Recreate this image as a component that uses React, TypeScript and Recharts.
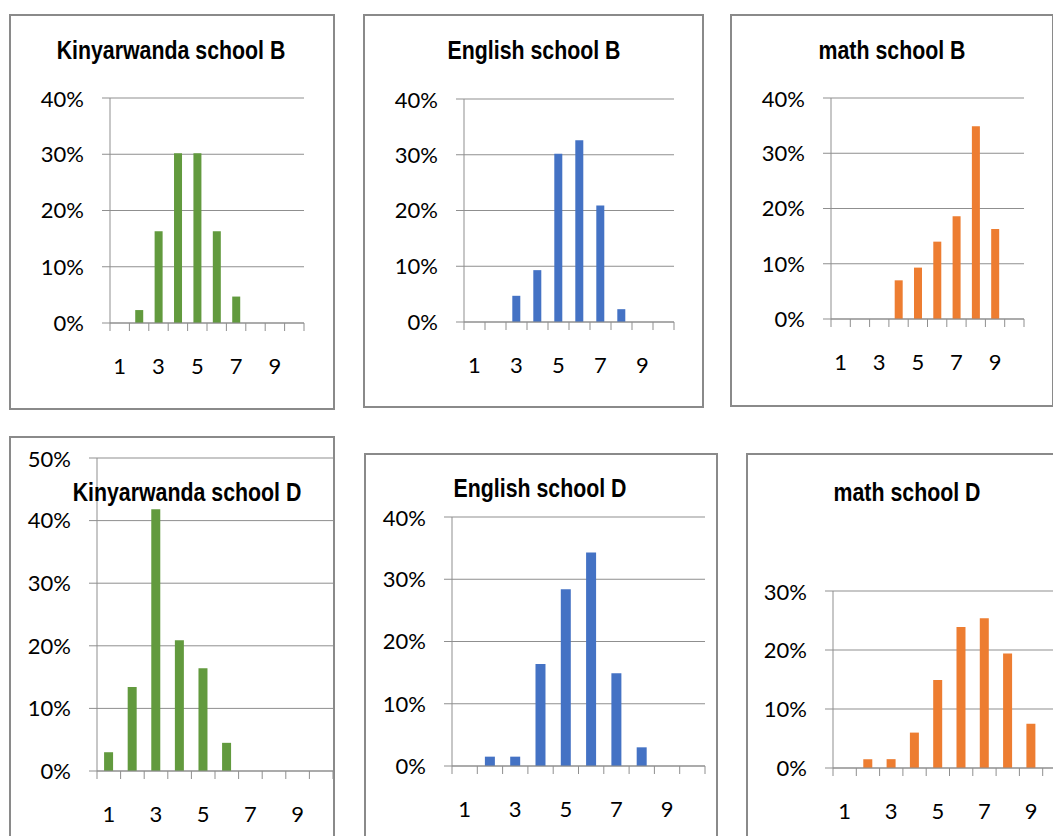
import React from "react";
import { BarChart, Bar, XAxis, YAxis, CartesianGrid } from "recharts";

// score categories 1..10, shares of students per score
const CATEGORIES = ["1", "2", "3", "4", "5", "6", "7", "8", "9", "10"];

const kinyarwandaB = [0, 0.023, 0.163, 0.302, 0.302, 0.163, 0.047, 0, 0, 0];
const englishB = [0, 0, 0.047, 0.093, 0.302, 0.326, 0.209, 0.023, 0, 0];
const mathB = [0, 0, 0, 0.07, 0.093, 0.14, 0.186, 0.349, 0.163, 0];
const kinyarwandaD = [0.03, 0.134, 0.418, 0.209, 0.164, 0.045, 0, 0, 0, 0];
const englishD = [0, 0.015, 0.015, 0.164, 0.284, 0.343, 0.149, 0.03, 0, 0];
const mathD = [0, 0.015, 0.015, 0.06, 0.149, 0.239, 0.254, 0.194, 0.075, 0];

const TICKS_40 = [0, 0.1, 0.2, 0.3, 0.4];
const TICKS_50 = [0, 0.1, 0.2, 0.3, 0.4, 0.5];
const TICKS_30 = [0, 0.1, 0.2, 0.3];

const GREEN = "#629a3e";
const BLUE = "#4472c4";
const ORANGE = "#ed7d31";
const GRID = "#8f8f8f";
const TEXT = "#000";
const LABEL_GAP = 35;
const Y_AXIS_W = 90;
const PAD = 12;
const FONT = 22;

const toRows = (values: number[]) => CATEGORIES.map((c, i) => ({ cat: c, value: values[i] }));
const pct = (v: number) => `${Math.round(v * 100)}%`;

interface PanelProps {
  title: string;
  values: number[];
  color: string;
  ticks: number[];
  box: { x: number; y: number; w: number; h: number };
  plot: { x: number; y: number; w: number; h: number };
  titlePos: { x: number; y: number };
}

function Panel({ title, values, color, ticks, box, plot, titlePos }: PanelProps) {
  const data = toRows(values);
  const band = plot.w / CATEGORIES.length;

  const renderTick = (props: any) => {
    const { x, y, payload } = props;
    const axisY = y - LABEL_GAP;
    const idx = CATEGORIES.indexOf(String(payload.value));
    return (
      <g>
        <line x1={x - band / 2} x2={x - band / 2} y1={axisY} y2={axisY + 8} stroke={GRID} />
        {idx === CATEGORIES.length - 1 && (
          <line x1={x + band / 2} x2={x + band / 2} y1={axisY} y2={axisY + 8} stroke={GRID} />
        )}
        {idx % 2 === 0 && (
          <text x={x} y={y} dy="0.71em" textAnchor="middle" fontSize={FONT} fontFamily="Lato" fill={TEXT}>
            {payload.value}
          </text>
        )}
      </g>
    );
  };

  return (
    <>
      <div
        style={{
          position: "absolute",
          left: box.x,
          top: box.y,
          width: box.w,
          height: box.h,
          border: "2px solid #8a8a8a",
          boxSizing: "border-box",
        }}
      />
      <div style={{ position: "absolute", left: plot.x - Y_AXIS_W, top: plot.y - PAD }}>
        <BarChart
          width={plot.w + Y_AXIS_W + PAD}
          height={plot.h + PAD + 60}
          data={data}
          margin={{ top: PAD, right: PAD, left: 0, bottom: 0 }}
          barCategoryGap="30%"
        >
          <CartesianGrid vertical={false} stroke={GRID} />
          <XAxis
            dataKey="cat"
            interval={0}
            height={60}
            tickLine={false}
            tickSize={0}
            tickMargin={LABEL_GAP}
            axisLine={{ stroke: GRID }}
            tick={renderTick}
          />
          <YAxis
            width={Y_AXIS_W}
            domain={[0, ticks[ticks.length - 1]]}
            ticks={ticks}
            tickFormatter={pct}
            tickSize={8}
            tickMargin={18}
            tickLine={{ stroke: GRID }}
            axisLine={{ stroke: GRID }}
            tick={{ fontSize: FONT, fontFamily: "Lato", fill: TEXT }}
          />
          <Bar dataKey="value" fill={color} isAnimationActive={false} />
        </BarChart>
      </div>
      <div
        style={{
          position: "absolute",
          left: titlePos.x,
          top: titlePos.y,
          transform: "translate(-50%, -50%) scaleX(0.82)",
          fontFamily: "'Liberation Sans', Arial, sans-serif",
          fontWeight: 700,
          fontSize: 26,
          lineHeight: 1,
          whiteSpace: "nowrap",
          color: "#000",
        }}
      >
        {title}
      </div>
    </>
  );
}

export default function App() {
  return (
    <div
      style={{
        position: "fixed",
        left: 0,
        top: 0,
        width: 1053,
        height: 836,
        overflow: "hidden",
        background: "#fff",
      }}
    >
      <Panel
        title="Kinyarwanda school B"
        values={kinyarwandaB}
        color={GREEN}
        ticks={TICKS_40}
        box={{ x: 9, y: 14, w: 326, h: 396 }}
        plot={{ x: 110, y: 98, w: 194, h: 225 }}
        titlePos={{ x: 171, y: 50 }}
      />
      <Panel
        title="English school B"
        values={englishB}
        color={BLUE}
        ticks={TICKS_40}
        box={{ x: 363, y: 14, w: 341, h: 394 }}
        plot={{ x: 464, y: 99, w: 210, h: 223 }}
        titlePos={{ x: 534, y: 50 }}
      />
      <Panel
        title="math school B"
        values={mathB}
        color={ORANGE}
        ticks={TICKS_40}
        box={{ x: 730, y: 14, w: 324, h: 393 }}
        plot={{ x: 831, y: 98, w: 193, h: 221 }}
        titlePos={{ x: 892, y: 50 }}
      />
      <Panel
        title="Kinyarwanda school D"
        values={kinyarwandaD}
        color={GREEN}
        ticks={TICKS_50}
        box={{ x: 9, y: 436, w: 326, h: 420 }}
        plot={{ x: 97, y: 458, w: 236, h: 313 }}
        titlePos={{ x: 187, y: 492 }}
      />
      <Panel
        title="English school D"
        values={englishD}
        color={BLUE}
        ticks={TICKS_40}
        box={{ x: 364, y: 453, w: 354, h: 420 }}
        plot={{ x: 452, y: 517, w: 253, h: 249 }}
        titlePos={{ x: 540, y: 488 }}
      />
      <Panel
        title="math  school D"
        values={mathD}
        color={ORANGE}
        ticks={TICKS_30}
        box={{ x: 746, y: 453, w: 340, h: 420 }}
        plot={{ x: 833, y: 591, w: 233, h: 177 }}
        titlePos={{ x: 907, y: 492 }}
      />
    </div>
  );
}
